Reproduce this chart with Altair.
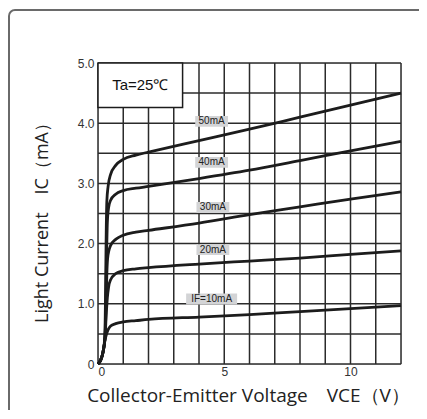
import altair as alt
import pandas as pd

# ---- data ----
vce_50 = [0, 0.1, 0.2, 0.27, 0.3, 0.32, 0.35, 0.4, 0.5, 0.7, 1.0, 1.5, 2, 4, 6, 8, 10, 12]
ic_50 = [0, 0.06, 0.2, 0.45, 1.2, 2.0, 2.7, 2.95, 3.15, 3.3, 3.4, 3.47, 3.52, 3.71, 3.9, 4.1, 4.3, 4.5]
vce_40 = [0, 0.1, 0.2, 0.28, 0.31, 0.34, 0.37, 0.42, 0.5, 0.7, 1.0, 1.5, 2, 4, 6, 8, 10, 12]
ic_40 = [0, 0.06, 0.2, 0.45, 1.1, 1.8, 2.35, 2.6, 2.72, 2.82, 2.88, 2.92, 2.95, 3.08, 3.22, 3.38, 3.54, 3.7]
vce_30 = [0, 0.1, 0.2, 0.28, 0.32, 0.35, 0.38, 0.43, 0.5, 0.7, 1.0, 1.5, 2, 4, 6, 8, 10, 12]
ic_30 = [0, 0.06, 0.2, 0.45, 1.0, 1.5, 1.75, 1.88, 1.97, 2.07, 2.14, 2.19, 2.22, 2.34, 2.48, 2.61, 2.74, 2.86]
vce_20 = [0, 0.1, 0.2, 0.28, 0.33, 0.37, 0.42, 0.5, 0.7, 1.0, 1.5, 2, 4, 6, 8, 10, 12]
ic_20 = [0, 0.06, 0.2, 0.45, 0.85, 1.1, 1.28, 1.4, 1.5, 1.55, 1.58, 1.6, 1.66, 1.71, 1.76, 1.82, 1.88]
vce_10 = [0, 0.1, 0.2, 0.28, 0.34, 0.4, 0.5, 0.7, 1.0, 1.5, 2, 4, 6, 8, 10, 12]
ic_10 = [0, 0.06, 0.2, 0.4, 0.5, 0.57, 0.63, 0.67, 0.7, 0.72, 0.74, 0.78, 0.82, 0.87, 0.92, 0.97]

series_names = ["50mA", "40mA", "30mA", "20mA", "10mA"]

label_text = ["50mA", "40mA", "30mA", "20mA", "IF=10mA"]
label_x = [4.5, 4.5, 4.55, 4.55, 4.5]
label_y = [4.03, 3.35, 2.6, 1.9, 1.08]

note_text = ["Ta=25℃"]

x_ticks = list(range(0, 13))
y_ticks = [i * 0.5 for i in range(0, 11)]

# ---- tables ----
rows = []
for name, xs_, ys_ in zip(series_names, [vce_50, vce_40, vce_30, vce_20, vce_10],
                          [ic_50, ic_40, ic_30, ic_20, ic_10]):
    for xv, yv in zip(xs_, ys_):
        rows.append({"series": name, "vce": xv, "ic": yv})
curves = pd.DataFrame(rows)
labels = pd.DataFrame({"t": label_text, "x": label_x, "y": label_y})
note = pd.DataFrame({"t": note_text, "x0": [0], "x1": [3.35], "y0": [4.26], "y1": [5.0]})
xgrid = pd.DataFrame({"gx": x_ticks})
ygrid = pd.DataFrame({"gy": y_ticks})

BG = "#d3d4d6"
INK = "#1c1c1c"
GRID = "#2b2b2b"
FONT = "Liberation Sans"
TFONT = "Open Sans"

xs = alt.Scale(domain=[0, 12], nice=False, zero=False)
ys = alt.Scale(domain=[0, 5], nice=False, zero=False)

x_axis = alt.Axis(
    values=[0, 5, 10],
    format="d",
    title="Collector-Emitter Voltage　VCE（V）",
    titleFontSize=19, titleFontWeight="normal", titleFont=TFONT, titleColor="#222",
    titleX=150, titleY=37, titleAlign="center", titleBaseline="alphabetic",
    labelFontSize=12, labelFont=FONT, labelColor="#333", labelPadding=2,
    labelOverlap=False, grid=False, ticks=False, domain=False,
)
y_axis = alt.Axis(
    values=[0, 1, 2, 3, 4, 5],
    labelExpr="datum.value == 0 ? '0' : format(datum.value, '.1f')",
    title="Light Current　IC（mA）",
    titleFontSize=18, titleFontWeight="normal", titleFont=TFONT, titleColor="#222",
    titleX=-56, titleY=155, titleAngle=-90, titleAlign="center", titleBaseline="middle",
    labelFontSize=12, labelFont=FONT, labelColor="#333", labelPadding=4,
    labelOverlap=False, grid=False, ticks=False, domain=False,
)

frame = alt.Chart(pd.DataFrame({"a": [0]})).mark_rect(
    fillOpacity=0, stroke="#6a6a6a", strokeWidth=2, cornerRadius=6
).encode(
    x=alt.value(-89), x2=alt.value(360), y=alt.value(-53), y2=alt.value(400)
)

vgrid = alt.Chart(xgrid).mark_rule(color=GRID, strokeWidth=1.5).encode(
    x=alt.X("gx:Q", scale=xs, axis=x_axis)
)
hgrid = alt.Chart(ygrid).mark_rule(color=GRID, strokeWidth=1.5).encode(
    y=alt.Y("gy:Q", scale=ys, axis=y_axis)
)

base_curves = alt.Chart(curves).mark_line(
    color=INK, strokeWidth=2.8, interpolate="monotone"
).encode(
    x=alt.X("vce:Q", scale=xs, axis=x_axis),
    y=alt.Y("ic:Q", scale=ys, axis=y_axis),
    detail="series:N",
    order="vce:Q",
)

note_box = alt.Chart(note).mark_rect(fill="white", stroke=INK, strokeWidth=1.5).encode(
    x=alt.X("x0:Q", scale=xs, axis=x_axis), x2="x1:Q",
    y=alt.Y("y0:Q", scale=ys, axis=y_axis), y2="y1:Q"
)
note_txt = alt.Chart(note).transform_calculate(
    xc="(datum.x0 + datum.x1) / 2", yc="(datum.y0 + datum.y1) / 2"
).mark_text(font=FONT, fontSize=15, color="#111", baseline="middle", align="center").encode(
    x=alt.X("xc:Q", scale=xs, axis=x_axis), y=alt.Y("yc:Q", scale=ys, axis=y_axis), text="t:N"
)

label_bg = alt.Chart(labels).transform_calculate(
    hw="length(datum.t) * 0.12 + 0.17",
    xa="datum.x - datum.hw", xb="datum.x + datum.hw",
    ya="datum.y - 0.09", yb="datum.y + 0.09",
).mark_rect(fill=BG).encode(
    x=alt.X("xa:Q", scale=xs, axis=x_axis), x2="xb:Q",
    y=alt.Y("ya:Q", scale=ys, axis=y_axis), y2="yb:Q"
)
label_txt = alt.Chart(labels).mark_text(
    font=FONT, fontSize=10, color="#222", baseline="middle", align="center"
).encode(
    x=alt.X("x:Q", scale=xs, axis=x_axis), y=alt.Y("y:Q", scale=ys, axis=y_axis), text="t:N"
)

chart = alt.layer(
    frame, vgrid, hgrid, note_box, note_txt, base_curves, label_bg, label_txt
).properties(
    width=303, height=301,
    autosize=alt.AutoSizeParams(type="none"),
    padding={"left": 90, "top": 55, "right": 18, "bottom": 46},
).configure_view(
    fill=BG, stroke=INK, strokeWidth=2
).configure(background="white")

chart.save("out.html", embed_options={"renderer": "svg", "actions": False})
